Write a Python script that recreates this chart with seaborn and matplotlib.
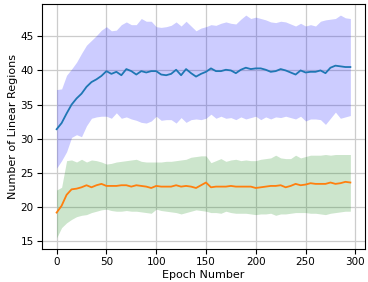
import matplotlib
matplotlib.use("Agg")
import matplotlib.pyplot as plt
import seaborn as sns
import pandas as pd

epochs = list(range(0, 300, 5))

# blue run: mean and band
blue_mean = [31.4, 32.3, 33.7, 35.0, 35.9, 36.6, 37.6, 38.3, 38.7, 39.2,
             39.9, 39.5, 39.8, 39.3, 40.2, 39.9, 39.4, 39.9, 39.7, 39.9,
             39.9, 39.4, 39.3, 39.5, 40.1, 39.3, 40.2, 39.6, 39.1, 39.5,
             39.8, 40.3, 39.9, 39.9, 40.1, 40.0, 39.6, 40.1, 40.4, 40.2,
             40.3, 40.3, 40.1, 39.8, 39.9, 40.2, 40.0, 39.7, 39.4, 40.0,
             39.7, 39.8, 39.8, 40.0, 39.6, 40.4, 40.7, 40.6, 40.5, 40.5]
blue_upper = [37.2, 37.3, 39.3, 40.2, 41.2, 42.5, 43.7, 44.4, 45.1, 45.9,
              46.4, 45.8, 45.9, 46.7, 47.1, 46.7, 46.7, 47.6, 47.2, 47.2,
              46.4, 46.3, 46.4, 46.6, 47.1, 46.5, 47.2, 46.5, 45.8, 46.2,
              46.4, 46.7, 46.6, 46.9, 47.1, 46.9, 46.8, 47.5, 48.1, 47.6,
              47.8, 47.6, 47.4, 47.1, 47.0, 47.2, 47.1, 46.8, 46.5, 46.9,
              46.5, 46.7, 46.5, 47.2, 47.4, 47.5, 47.6, 48.1, 47.7, 47.6]
blue_lower = [25.7, 26.8, 28.1, 30.2, 30.6, 30.3, 31.9, 33.0, 33.2, 33.3,
              33.3, 33.0, 33.8, 33.0, 33.2, 32.9, 32.7, 32.4, 32.3, 32.6,
              33.3, 32.7, 32.8, 32.8, 32.3, 33.1, 32.4, 32.8, 32.9, 32.8,
              33.0, 33.6, 33.0, 33.3, 33.0, 33.1, 32.8, 33.2, 32.9, 33.1,
              33.3, 32.8, 33.2, 32.9, 33.2, 33.1, 33.3, 33.1, 32.9, 33.3,
              32.6, 32.9, 32.9, 32.8, 32.1, 33.0, 33.9, 33.0, 33.2, 33.4]

# orange run: mean and band
orange_mean = [19.2, 20.2, 21.8, 22.6, 22.7, 22.9, 23.2, 22.9, 23.2, 23.4,
               23.1, 23.1, 23.1, 23.2, 23.2, 23.0, 23.2, 23.1, 23.0, 22.8,
               23.1, 23.0, 23.0, 23.0, 23.2, 23.0, 23.1, 23.0, 22.8, 23.2,
               23.6, 22.9, 23.0, 23.0, 23.0, 23.1, 23.0, 23.0, 23.0, 23.0,
               22.8, 22.9, 23.0, 23.1, 23.1, 23.2, 22.9, 23.1, 23.4, 23.2,
               23.3, 23.5, 23.4, 23.4, 23.4, 23.6, 23.4, 23.5, 23.7, 23.6]
orange_upper = [22.5, 22.9, 26.8, 26.9, 26.6, 27.0, 26.6, 26.9, 26.8, 26.6,
                26.3, 26.4, 26.6, 26.7, 26.8, 26.9, 27.0, 26.7, 26.6, 26.6,
                26.6, 26.6, 26.7, 26.7, 26.8, 26.9, 27.0, 27.3, 27.4, 27.5,
                27.5, 26.5, 26.8, 27.1, 26.7, 26.9, 27.0, 26.8, 26.9, 26.8,
                26.8, 27.0, 27.1, 27.2, 27.6, 27.2, 27.1, 27.1, 27.6, 27.2,
                27.4, 27.6, 27.6, 27.6, 27.7, 27.6, 27.7, 27.7, 27.7, 27.7]
orange_lower = [15.5, 17.0, 17.7, 18.2, 18.6, 18.8, 18.9, 19.2, 19.4, 19.6,
                19.7, 19.5, 19.4, 19.4, 19.5, 19.4, 19.4, 19.3, 19.2, 19.1,
                19.7, 19.5, 19.4, 19.3, 19.2, 19.0, 19.2, 19.4, 19.6, 19.5,
                19.4, 19.2, 19.2, 19.1, 19.4, 19.2, 19.1, 19.1, 19.1, 19.0,
                18.9, 19.0, 19.0, 19.1, 18.8, 19.0, 19.0, 19.1, 19.2, 19.2,
                19.2, 19.1, 19.1, 19.0, 18.9, 19.1, 19.2, 19.3, 19.4, 19.4]

df = pd.DataFrame({"epoch": epochs, "blue": blue_mean, "orange": orange_mean})

fig = plt.figure(figsize=(3.68, 2.82), dpi=100)
ax = fig.add_axes([0.114, 0.117, 0.878, 0.869])

ax.fill_between(epochs, blue_lower, blue_upper, color="blue", alpha=0.2, linewidth=0)
ax.fill_between(epochs, orange_lower, orange_upper, color="green", alpha=0.2, linewidth=0)
sns.lineplot(data=df, x="epoch", y="blue", color="#1f77b4", linewidth=1.3, ax=ax)
sns.lineplot(data=df, x="epoch", y="orange", color="#ff7f0e", linewidth=1.3, ax=ax)

ax.set_xticks([0, 50, 100, 150, 200, 250, 300])
ax.set_yticks([15, 20, 25, 30, 35, 40, 45])
ax.tick_params(labelsize=7.5, pad=2.5)
ax.set_xlabel("Epoch Number", fontsize=8, labelpad=2)
ax.set_ylabel("Number of Linear Regions", fontsize=8, labelpad=2)
ax.grid(True, color="#cccccc", linewidth=0.9)
ax.set_axisbelow(True)
ax.margins(x=0.05, y=0.05)

fig.savefig("out.png", dpi=100)
